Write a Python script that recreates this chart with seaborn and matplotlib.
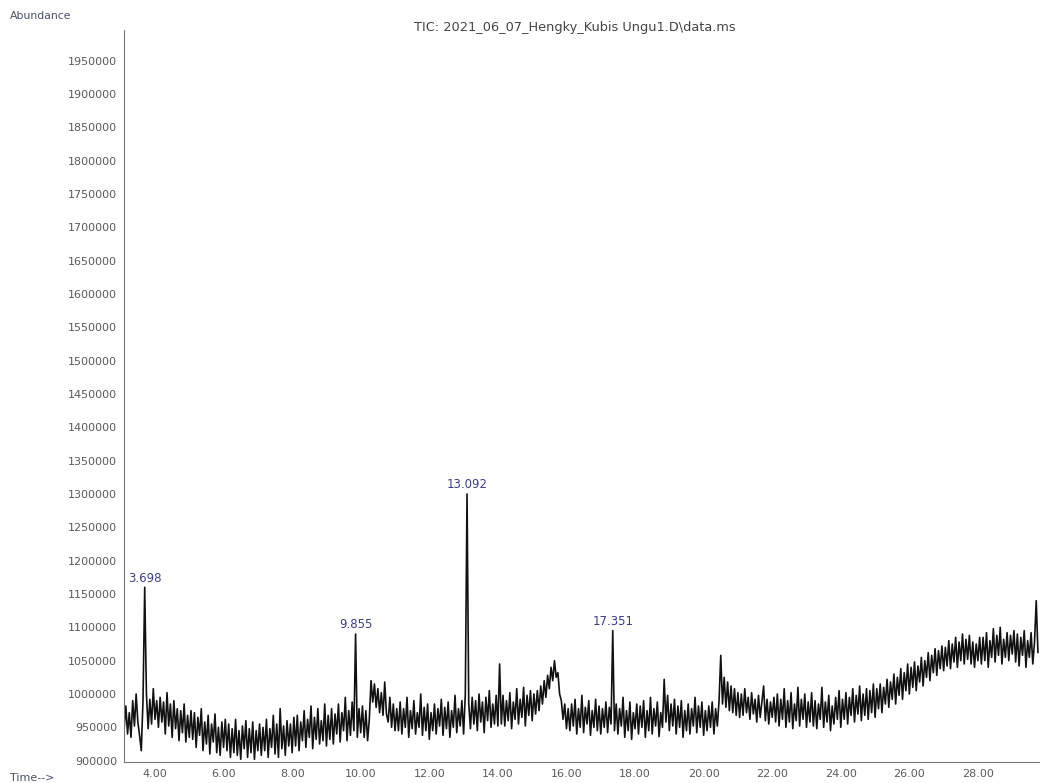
import numpy as np
import pandas as pd
import matplotlib
matplotlib.use("Agg")
import matplotlib.pyplot as plt
from matplotlib.ticker import MultipleLocator, AutoMinorLocator, FuncFormatter
import seaborn as sns

# ---- data (abundance in thousands, sampled every 0.05 min from 3.10 min) ----
t_start = 3.10
t_step = 0.05
abund_k = [
    948, 982, 940, 972, 935, 990, 952, 1000, 958, 938, 915, 990, 1160, 1000, 948, 992, 955, 1008, 962, 990,
    950, 995, 958, 988, 940, 1002, 952, 985, 935, 990, 948, 978, 930, 975, 942, 985, 928, 968, 935, 975,
    932, 972, 920, 965, 938, 978, 915, 958, 925, 968, 910, 955, 928, 970, 912, 950, 908, 958, 920, 962,
    915, 955, 905, 948, 912, 962, 908, 945, 902, 952, 918, 960, 905, 948, 912, 958, 902, 945, 915, 955,
    908, 950, 915, 962, 905, 948, 920, 968, 910, 955, 905, 978, 918, 952, 908, 960, 922, 955, 912, 965,
    922, 968, 915, 958, 930, 975, 920, 962, 935, 982, 918, 965, 932, 978, 925, 960, 930, 985, 922, 968,
    932, 978, 925, 970, 940, 985, 928, 972, 945, 995, 930, 975, 938, 988, 945, 1090, 935, 978, 942, 982,
    935, 975, 930, 962, 1020, 988, 1015, 980, 1008, 972, 1002, 968, 1018, 970, 958, 995, 950, 985, 945, 978,
    945, 988, 940, 978, 950, 995, 935, 975, 948, 990, 940, 972, 950, 1000, 938, 980, 945, 985, 932, 972,
    945, 985, 940, 978, 952, 992, 938, 980, 948, 988, 935, 975, 950, 998, 942, 978, 952, 990, 940, 1000,
    1300, 985, 948, 995, 955, 990, 945, 1000, 958, 988, 942, 995, 960, 1005, 950, 985, 955, 998, 952, 1045,
    955, 998, 952, 990, 960, 1002, 948, 988, 962, 1008, 955, 992, 965, 1010, 952, 998, 968, 1005, 960, 1000,
    970, 1005, 975, 1012, 985, 1020, 995, 1028, 1008, 1040, 1020, 1050, 1025, 1032, 1000, 990, 962, 985, 948, 978,
    945, 985, 952, 992, 940, 978, 950, 998, 942, 980, 955, 990, 938, 975, 950, 992, 945, 982, 940, 978,
    950, 988, 942, 980, 955, 1095, 945, 985, 940, 978, 952, 995, 935, 975, 945, 988, 932, 972, 948, 985,
    940, 982, 950, 990, 935, 975, 945, 995, 940, 978, 952, 988, 936, 972, 950, 1022, 958, 998, 945, 985,
    952, 992, 940, 982, 950, 990, 935, 975, 945, 985, 940, 978, 952, 995, 942, 982, 950, 988, 938, 975,
    945, 982, 950, 988, 940, 978, 952, 990, 1058, 985, 1025, 980, 1018, 975, 1012, 972, 1008, 968, 1002, 965,
    1000, 968, 1008, 972, 995, 962, 1002, 970, 992, 958, 998, 965, 988, 1012, 960, 992, 955, 988, 965, 995,
    958, 1000, 952, 992, 962, 1008, 950, 990, 958, 1002, 948, 985, 960, 1010, 952, 992, 962, 1000, 950, 988,
    958, 1002, 952, 990, 948, 985, 962, 1010, 950, 988, 958, 998, 945, 982, 955, 995, 962, 1005, 950, 992,
    962, 1002, 955, 995, 968, 1008, 958, 998, 970, 1012, 960, 1000, 968, 1008, 962, 1005, 972, 1015, 965, 1008,
    978, 1015, 972, 1010, 985, 1022, 980, 1018, 992, 1030, 985, 1025, 998, 1038, 992, 1032, 1005, 1045, 1000, 1040,
    1010, 1048, 1005, 1042, 1018, 1055, 1012, 1050, 1025, 1062, 1020, 1058, 1032, 1068, 1028, 1065, 1038, 1072, 1035, 1070,
    1042, 1080, 1038, 1075, 1048, 1085, 1040, 1078, 1050, 1090, 1045, 1082, 1052, 1088, 1045, 1078, 1040, 1075, 1050, 1085,
    1045, 1085, 1050, 1092, 1040, 1080, 1055, 1098, 1048, 1088, 1058, 1100, 1045, 1082, 1055, 1092, 1050, 1088, 1060, 1095,
    1048, 1090, 1042, 1085, 1058, 1095, 1040, 1080, 1055, 1092, 1045, 1078, 1140, 1062,
]

peak_labels = ["3.698", "9.855", "13.092", "17.351"]
peak_times = [3.70, 9.85, 13.10, 17.35]
peak_heights_k = [1160, 1090, 1300, 1095]

title_text = "TIC: 2021_06_07_Hengky_Kubis Ungu1.D\\data.ms"

# ---- build frame ----
time = np.round(t_start + t_step * np.arange(len(abund_k)), 3)
df = pd.DataFrame({"time": time, "abundance": np.array(abund_k) * 1000})

sns.set_style("white")
plt.rcParams["font.family"] = ["DejaVu Sans"]

fig = plt.figure(figsize=(10.40, 7.83), dpi=100)
ax = fig.add_axes([124 / 1040, 21 / 783, 1 - 124 / 1040, (762 - 30) / 783])

sns.lineplot(data=df, x="time", y="abundance", ax=ax, estimator=None, sort=False,
             color="#111111", linewidth=1.2)

for lab, pt, ph in zip(peak_labels, peak_times, peak_heights_k):
    ax.annotate(lab, xy=(pt, ph * 1000), xytext=(0, 2), textcoords="offset points",
                ha="center", va="bottom", fontsize=8.5, color="#3b3f8c")

ax.set_xlim(3.096, 29.81)
ax.set_ylim(898000, 1996000)

ax.xaxis.set_major_locator(MultipleLocator(2))
ax.xaxis.set_minor_locator(AutoMinorLocator(4))
ax.xaxis.set_major_formatter(FuncFormatter(lambda v, p: f"{v:.2f}"))
ax.yaxis.set_major_locator(MultipleLocator(50000))
ax.yaxis.set_major_formatter(FuncFormatter(lambda v, p: f"{int(round(v))}"))

ax.tick_params(axis="both", which="major", direction="out", length=3, width=0.6,
               labelsize=8, labelcolor="#5a5a5a", color="#777777", pad=2)
ax.tick_params(axis="x", which="minor", direction="out", length=2, width=0.5, color="#888888")

ax.set_xlabel("")
ax.set_ylabel("")
for side in ["top", "right"]:
    ax.spines[side].set_visible(False)
for side in ["left", "bottom"]:
    ax.spines[side].set_color("#777777")
    ax.spines[side].set_linewidth(0.8)

fig.text(10 / 1040, 1 - 16 / 783, "Abundance", fontsize=7.8, color="#4a4f6a",
         ha="left", va="center")
fig.text(575 / 1040, 1 - 27 / 783, title_text, fontsize=9.3, color="#444444",
         ha="center", va="center")
fig.text(10 / 1040, 1 - 773 / 783, "Time-->", fontsize=8, color="#4a4f6a",
         ha="left", va="top")

fig.savefig("out.png", dpi=100, facecolor="white")
